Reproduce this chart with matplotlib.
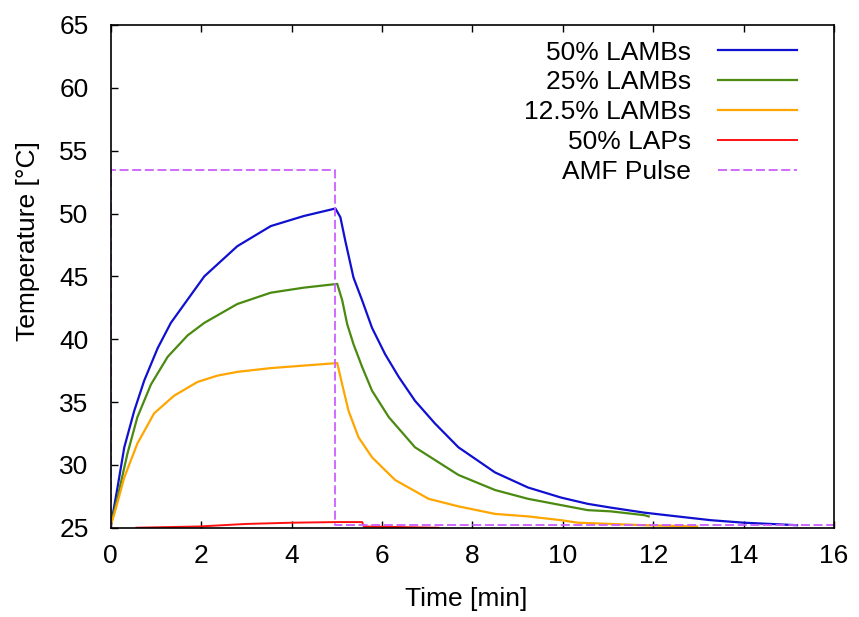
import matplotlib.pyplot as plt

# Heating/cooling curves (time in min, temperature in degC)
t_50_lambs = [0.0, 0.15, 0.30, 0.52, 0.74, 1.04, 1.33, 1.55, 2.07, 2.80, 3.54, 4.27, 4.97,
              5.08, 5.19, 5.37, 5.56, 5.78, 6.07, 6.37, 6.73, 7.17, 7.69, 8.50, 9.23,
              9.96, 10.55, 11.06, 11.80, 12.53, 13.27, 14.00, 15.18]
T_50_lambs = [25.1, 28.2, 31.4, 34.3, 36.7, 39.3, 41.3, 42.4, 45.0, 47.4, 49.0, 49.8, 50.4,
              49.7, 47.8, 44.9, 43.1, 40.9, 38.8, 37.0, 35.1, 33.3, 31.4, 29.4, 28.2,
              27.4, 26.9, 26.6, 26.2, 25.9, 25.6, 25.4, 25.2]

t_25_lambs = [0.0, 0.15, 0.37, 0.59, 0.89, 1.26, 1.70, 2.07, 2.80, 3.54, 4.27, 5.01, 5.12,
              5.23, 5.37, 5.56, 5.78, 6.15, 6.73, 7.69, 8.50, 9.23, 9.96, 10.55, 11.06,
              11.80, 11.90]
T_25_lambs = [25.2, 27.4, 30.9, 33.8, 36.4, 38.6, 40.3, 41.3, 42.8, 43.7, 44.1, 44.4, 43.1,
              41.2, 39.6, 37.8, 35.9, 33.8, 31.4, 29.2, 28.0, 27.3, 26.8, 26.4, 26.3,
              26.0, 25.9]

t_12_lambs = [0.0, 0.08, 0.30, 0.59, 0.96, 1.40, 1.92, 2.36, 2.80, 3.54, 4.27, 5.01, 5.12,
              5.26, 5.48, 5.78, 6.29, 7.03, 7.69, 8.50, 9.23, 9.96, 10.33, 11.80, 12.97]
T_12_lambs = [25.2, 26.1, 29.0, 31.7, 34.1, 35.5, 36.6, 37.1, 37.4, 37.7, 37.9, 38.1, 36.4,
              34.3, 32.2, 30.6, 28.8, 27.3, 26.7, 26.1, 25.9, 25.6, 25.4, 25.2, 25.1]

t_50_laps = [0.57, 1.96, 2.99, 4.02, 5.00, 5.56, 5.60, 7.25]
T_50_laps = [25.0, 25.1, 25.3, 25.4, 25.45, 25.45, 25.1, 25.0]

t_pulse = [0.0, 0.0, 4.97, 4.97, 16.0]
T_pulse = [25.0, 53.5, 53.5, 25.25, 25.25]

plt.rcParams['font.family'] = ['Liberation Sans', 'DejaVu Sans']
plt.rcParams['font.size'] = 19

fig = plt.figure(figsize=(8.59, 6.17), dpi=100)
ax = fig.add_axes([0.1289, 0.1447, 0.8421, 0.8148])

ax.plot(t_50_lambs, T_50_lambs, color='#1010d0', lw=1.6, label='50% LAMBs')
ax.plot(t_25_lambs, T_25_lambs, color='#4a8a10', lw=1.6, label='25% LAMBs')
ax.plot(t_12_lambs, T_12_lambs, color='#ffa500', lw=1.6, label='12.5% LAMBs')
ax.plot(t_50_laps, T_50_laps, color='#ff1010', lw=1.4, label='50% LAPs')
ax.plot(t_pulse, T_pulse, color='#cc60ff', lw=1.3, ls=(0, (5, 2)), label='AMF Pulse')

ax.set_xlim(0, 16)
ax.set_ylim(25, 65)
ax.set_xticks(range(0, 17, 2))
ax.set_yticks(range(25, 66, 5))
ax.tick_params(direction='in', length=5, width=1, top=True, right=False, pad=12)
ax.tick_params(axis='y', pad=16)
for s in ax.spines.values():
    s.set_linewidth(1.2)

ax.set_xlabel('Time [min]')
ax.set_ylabel('Temperature [°C]')
ax.xaxis.set_label_coords(0.492, -0.118)
ax.yaxis.set_label_coords(-0.098, 0.57)

ax.legend(loc='upper right', bbox_to_anchor=(0.963, 0.99), frameon=False,
          markerfirst=False, handlelength=3.0, handletextpad=1.0, labelspacing=0.22,
          borderaxespad=0.0)

fig.savefig('out.png', dpi=100)
